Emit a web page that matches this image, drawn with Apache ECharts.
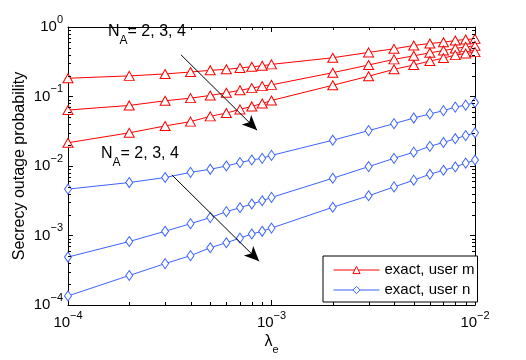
<!DOCTYPE html>
<html>
<head>
<meta charset="utf-8">
<script src="https://cdn.jsdelivr.net/npm/echarts@6/dist/echarts.min.js"></script>
<style>html,body{margin:0;padding:0;background:#fff}#c{width:526px;height:360px}</style>
</head>
<body>
<div id="c"></div>
<script>
// lambda_e values
const lambdaE = [1e-4,2e-4,3e-4,4e-4,5e-4,6e-4,7e-4,8e-4,9e-4,1e-3,2e-3,3e-3,4e-3,5e-3,6e-3,7e-3,8e-3,9e-3,1e-2];
// user m (red), N_A = 2, 3, 4
const userM_NA2 = [0.183,0.198,0.211,0.225,0.238,0.246,0.257,0.268,0.277,0.290,0.361,0.431,0.485,0.542,0.579,0.604,0.640,0.661,0.675];
const userM_NA3 = [0.0638,0.0744,0.0868,0.0947,0.1035,0.113,0.123,0.132,0.141,0.147,0.220,0.284,0.342,0.385,0.425,0.459,0.491,0.518,0.535];
const userM_NA4 = [0.0216,0.0300,0.0377,0.0435,0.0518,0.0578,0.0652,0.0720,0.0794,0.0877,0.145,0.196,0.246,0.284,0.324,0.357,0.394,0.416,0.435];
// user n (blue), N_A = 2, 3, 4
const userN_NA2 = [0.00465,0.00578,0.00683,0.0081,0.00897,0.0100,0.0112,0.0122,0.0129,0.0142,0.0235,0.0323,0.0407,0.049,0.0561,0.0625,0.0705,0.0751,0.082];
const userN_NA3 = [4.9e-4,8.2e-4,1.15e-3,1.48e-3,1.81e-3,2.2e-3,2.51e-3,2.84e-3,3.16e-3,3.53e-3,6.67e-3,9.8e-3,0.0129,0.0158,0.0192,0.0218,0.0247,0.0274,0.030];
const userN_NA4 = [1.35e-4,2.66e-4,3.94e-4,5.13e-4,6.67e-4,7.87e-4,9.18e-4,1.05e-3,1.15e-3,1.28e-3,2.55e-3,3.73e-3,5.0e-3,6.25e-3,7.61e-3,8.68e-3,9.68e-3,0.0110,0.0122];
// axis ranges and minor tick values
const xRange = [1e-4, 1e-2];
const yRange = [1e-4, 1];
const xMinorTicks = [2e-4,3e-4,4e-4,5e-4,6e-4,7e-4,8e-4,9e-4,2e-3,3e-3,4e-3,5e-3,6e-3,7e-3,8e-3,9e-3];
const yMinorTicks = [2e-4,3e-4,4e-4,5e-4,6e-4,7e-4,8e-4,9e-4,2e-3,3e-3,4e-3,5e-3,6e-3,7e-3,8e-3,9e-3,0.02,0.03,0.04,0.05,0.06,0.07,0.08,0.09,0.2,0.3,0.4,0.5,0.6,0.7,0.8,0.9];
// annotation arrows [start, end] in data coordinates
const arrowUserM = [[3.59e-4, 0.398],[8.5e-4, 0.0327]];
const arrowUserN = [[3.24e-4, 0.00744],[8.7e-4, 4.25e-4]];
const annotText = 'N_A= 2, 3, 4';

const RED = '#ff0000', BLUE = '#3d63ff';
const FONT = '"Liberation Sans", Arial, Helvetica, sans-serif';
const supRich = {
  b: {fontSize: 15, fontFamily: FONT, color: '#000', lineHeight: 26},
  s: {fontSize: 11, fontFamily: FONT, color: '#000', lineHeight: 10, verticalAlign: 'top'}
};
function powLabel(v) {
  const e = Math.round(Math.log10(v));
  return '{b|10}{s|' + (e < 0 ? '\u2212' + (-e) : e) + '}';
}
const pairs = arr => lambdaE.map((x, i) => [x, arr[i]]);

function mkSeries(name, data, color, symbol, size, arrow) {
  const s = {
    name, type: 'line', data: pairs(data), xAxisIndex: 0, yAxisIndex: 0,
    symbol, symbolSize: size, showAllSymbol: true,
    lineStyle: {color, width: 1},
    itemStyle: {color: '#fff', borderColor: color, borderWidth: 1},
    emphasis: {disabled: true}, animation: false, z: 3
  };
  if (arrow) {
    s.markLine = {
      silent: true, animation: false,
      symbol: ['none', 'arrow'], symbolSize: [10, 15],
      label: {show: false},
      lineStyle: {color: '#000', width: 1, type: 'solid'},
      emphasis: {disabled: true},
      data: [[{coord: arrow[0]}, {coord: arrow[1]}]]
    };
  }
  return s;
}

const axisBase = {type: 'log', logBase: 10, splitLine: {show: false}};
const xAxes = [
  Object.assign({}, axisBase, {position: 'bottom', min: xRange[0], max: xRange[1],
    axisLine: {lineStyle: {color: '#000', width: 1}},
    axisTick: {inside: true, length: 5, lineStyle: {color: '#000'}},
    axisLabel: {margin: 5, formatter: powLabel, rich: supRich},
    name: '{n|\u03bb}{s|e}', nameLocation: 'middle', nameGap: 24, nameMoveOverlap: false,
    nameTextStyle: {rich: {n: {fontSize: 16, fontFamily: FONT, color: '#000', lineHeight: 26}, s: {fontSize: 11, fontFamily: FONT, color: '#000', lineHeight: 10, verticalAlign: 'bottom'}}}
  }),
  Object.assign({}, axisBase, {position: 'top', min: xRange[0], max: xRange[1],
    axisLine: {lineStyle: {color: '#000', width: 1}}, axisLabel: {show: false},
    axisTick: {inside: true, length: 5, lineStyle: {color: '#000'}}})
];
const yAxes = [
  Object.assign({}, axisBase, {position: 'left', min: yRange[0], max: yRange[1],
    axisLine: {lineStyle: {color: '#000', width: 1}},
    axisTick: {inside: true, length: 5, lineStyle: {color: '#000'}},
    axisLabel: {margin: 5, formatter: powLabel, rich: supRich},
    name: 'Secrecy outage probability', nameLocation: 'middle', nameGap: 40, nameMoveOverlap: false,
    nameTextStyle: {fontSize: 16, fontFamily: FONT, color: '#000'}
  }),
  Object.assign({}, axisBase, {position: 'right', min: yRange[0], max: yRange[1],
    axisLine: {lineStyle: {color: '#000', width: 1}}, axisLabel: {show: false},
    axisTick: {inside: true, length: 5, lineStyle: {color: '#000'}}})
];

const nRich = {
  n: {fontSize: 16, fontFamily: FONT, fill: '#000', lineHeight: 30},
  s: {fontSize: 12, fontFamily: FONT, fill: '#000', lineHeight: 11, verticalAlign: 'bottom'}
};
function annot(x, y) {
  const parts = annotText.split('_');
  const sub = parts[1].charAt(0), rest = parts[1].slice(1);
  return {type: 'text', left: x, top: y, z: 10, silent: true,
    style: {text: '{n|' + parts[0] + '}{s|' + sub + '}{n|' + rest + '}', rich: nRich, fill: '#000'}};
}

const chart = echarts.init(document.getElementById('c'), null, {renderer: 'canvas'});
chart.setOption({
  animation: false,
  backgroundColor: '#fff',
  grid: {left: 68, right: 51, top: 27, bottom: 53},
  xAxis: xAxes,
  yAxis: yAxes,
  legend: {
    data: ['exact, user m', 'exact, user n'],
    orient: 'vertical', left: 323, top: 256,
    padding: [6, 3, 4, 10], itemGap: 4, itemWidth: 46, itemHeight: 9,
    backgroundColor: '#fff', borderColor: '#000', borderWidth: 1, borderRadius: 0,
    lineStyle: {width: 1}, itemStyle: {borderWidth: 1},
    textStyle: {fontSize: 15, fontFamily: FONT, color: '#000', lineHeight: 16},
    selectedMode: false, z: 20
  },
  series: [
    mkSeries('exact, user m', userM_NA2, RED, 'triangle', [10, 9], arrowUserM),
    mkSeries('exact, user m', userM_NA3, RED, 'triangle', [10, 9]),
    mkSeries('exact, user m', userM_NA4, RED, 'triangle', [10, 9]),
    mkSeries('exact, user n', userN_NA2, BLUE, 'diamond', [7, 10], arrowUserN),
    mkSeries('exact, user n', userN_NA3, BLUE, 'diamond', [7, 10]),
    mkSeries('exact, user n', userN_NA4, BLUE, 'diamond', [7, 10])
  ]
});

// minor log ticks, placed through the axes' own scales
const g = [annot(108, 24), annot(101, 146)];
const gridRect = {
  left: chart.convertToPixel({xAxisIndex: 0}, xRange[0]),
  right: chart.convertToPixel({xAxisIndex: 0}, xRange[1]),
  bottom: chart.convertToPixel({yAxisIndex: 0}, yRange[0]),
  top: chart.convertToPixel({yAxisIndex: 0}, yRange[1])
};
const tickStyle = {stroke: '#000', lineWidth: 1};
const L = 3;
xMinorTicks.forEach(v => {
  const px = Math.round(chart.convertToPixel({xAxisIndex: 0}, v)) + 0.5;
  g.push({type: 'line', silent: true, z: 5, shape: {x1: px, y1: gridRect.bottom, x2: px, y2: gridRect.bottom - L}, style: tickStyle});
  g.push({type: 'line', silent: true, z: 5, shape: {x1: px, y1: gridRect.top, x2: px, y2: gridRect.top + L}, style: tickStyle});
});
yMinorTicks.forEach(v => {
  const py = Math.round(chart.convertToPixel({yAxisIndex: 0}, v)) + 0.5;
  g.push({type: 'line', silent: true, z: 5, shape: {x1: gridRect.left, y1: py, x2: gridRect.left + L, y2: py}, style: tickStyle});
  g.push({type: 'line', silent: true, z: 5, shape: {x1: gridRect.right, y1: py, x2: gridRect.right - L, y2: py}, style: tickStyle});
});
chart.setOption({graphic: g});
</script>
</body>
</html>
